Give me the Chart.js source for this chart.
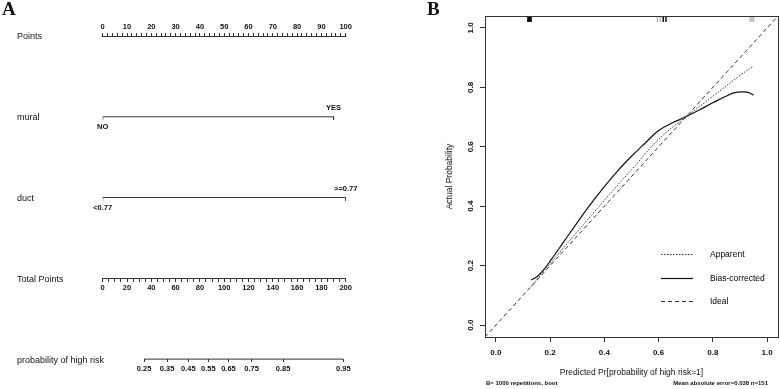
<!DOCTYPE html>
<html>
<head>
<meta charset="utf-8">
<script src="https://cdn.jsdelivr.net/npm/chart.js@4.4.1/dist/chart.umd.min.js"></script>
<style>
  body { margin: 0; background: #fff; }
  #wrap { position: relative; width: 780px; height: 389px; }
  canvas { position: absolute; top: 0; }
  #nomo { left: 0; }
  #calib { left: 420px; }
</style>
</head>
<body>
<div id="wrap">
  <canvas id="nomo" width="420" height="389"></canvas>
  <canvas id="calib" width="360" height="389"></canvas>
</div>
<script>
// ---- panel A: nomogram ----
const rowNames = ['Points', 'mural', 'duct', 'Total Points', 'probability of high risk'];
const pointTickLabels = [0, 10, 20, 30, 40, 50, 60, 70, 80, 90, 100];
const totalTickLabels = [0, 20, 40, 60, 80, 100, 120, 140, 160, 180, 200];
const muralLevels = ['NO', 'YES'];
const muralPoints = [0, 95];
const ductLevels = ['<0.77', '>=0.77'];
const ductPoints = [0, 100];
const probLabels = ['0.25', '0.35', '0.45', '0.55', '0.65', '0.75', '0.85', '0.95'];
const probPositions = [34, 53, 70.5, 87, 103.5, 122.5, 148.5, 198]; // in total points

// ---- panel B: calibration curve ----
const calTicks = [0, 0.2, 0.4, 0.6, 0.8, 1.0];
const apparentX = [0.13, 0.2, 0.3, 0.4, 0.5, 0.6, 0.7, 0.8, 0.9, 0.95];
const apparentY = [0.13, 0.207, 0.314, 0.42, 0.523, 0.625, 0.70, 0.77, 0.84, 0.872];
const biasX = [0.13, 0.15, 0.175, 0.2, 0.25, 0.3, 0.35, 0.4, 0.45, 0.5, 0.55, 0.6, 0.65, 0.7, 0.75, 0.8, 0.85, 0.88, 0.91, 0.93, 0.95];
const biasY = [0.152, 0.162, 0.185, 0.215, 0.28, 0.345, 0.408, 0.466, 0.52, 0.568, 0.612, 0.655, 0.68, 0.701, 0.724, 0.748, 0.771, 0.782, 0.785, 0.783, 0.774];
const idealX = [-0.04, 1.04];
const idealY = [-0.04, 1.04];
const rugDark = [0.118, 0.122, 0.126, 0.13, 0.617, 0.627];
const rugLight = [0.595, 0.606, 0.938, 0.944, 0.95];
const legendNames = ['Apparent', 'Bias-corrected', 'Ideal'];
const footLeft = 'B= 1000 repetitions, boot';
const footRight = 'Mean absolute error=0.038 n=151';

const SANS = '"Liberation Sans", Arial, sans-serif';
const SERIF = '"Liberation Serif", "Times New Roman", serif';
Chart.defaults.font.family = SANS;
Chart.defaults.color = '#111';

function pairs(xs, ys) {
  return xs.map((x, i) => ({ x: x, y: ys[i] }));
}

// level line with small end ticks hanging down
function levelLine(pts, row) {
  const a = pts[0], b = pts[pts.length - 1];
  return [{ x: a, y: row + 0.04 }, { x: a, y: row }, { x: b, y: row }, { x: b, y: row + 0.04 }];
}

function rugSegments(xs) {
  return xs.flatMap(x => [{ x: x, y: 1.02 }, { x: x, y: 1.04 }, { x: x, y: null }]);
}

const nomoText = {
  id: 'nomoText',
  afterDraw(chart) {
    const ctx = chart.ctx, xs = chart.scales.x, ys = chart.scales.y;
    ctx.save();
    ctx.fillStyle = '#111';
    ctx.textBaseline = 'middle';
    ctx.textAlign = 'left';
    ctx.font = '9px ' + SANS;
    rowNames.forEach((name, i) => ctx.fillText(name, 17, ys.getPixelForValue(i) + 1));

    ctx.font = 'bold 7.5px ' + SANS;
    ctx.textAlign = 'center';
    [[muralLevels, muralPoints, 1], [ductLevels, ductPoints, 2]].forEach(([levels, pts, row]) => {
      levels.forEach((lab, i) => {
        const y = ys.getPixelForValue(row) + (i % 2 === 0 ? 10 : -9);
        ctx.fillText(lab, xs.getPixelForValue(pts[i]), y);
      });
    });

    ctx.font = 'bold 19px ' + SERIF;
    ctx.textAlign = 'left';
    ctx.textBaseline = 'top';
    ctx.fillText('A', 2, 1);
    ctx.restore();
  }
};

const axisLook = {
  border: { color: '#333', width: 1 },
  grid: { drawOnChartArea: false, tickLength: 3, color: '#333' }
};

new Chart(document.getElementById('nomo'), {
  type: 'scatter',
  data: {
    datasets: [
      { data: levelLine(muralPoints, 1) },
      { data: levelLine(ductPoints, 2) },
      { data: pairs([probPositions[0], probPositions[probPositions.length - 1]], [4, 4]), xAxisID: 'tot' }
    ].map(d => Object.assign({ showLine: true, pointRadius: 0, borderColor: '#333', borderWidth: 1 }, d))
  },
  options: {
    responsive: false,
    animation: false,
    events: [],
    layout: { padding: { left: 102.7, right: 74.3, top: 20, bottom: 13.75 } },
    plugins: { legend: { display: false }, tooltip: { enabled: false } },
    scales: {
      x: Object.assign({
        type: 'linear', position: 'top', min: 0, max: 100,
        ticks: {
          stepSize: 2, autoSkip: false, maxRotation: 0, padding: 2,
          font: { size: 7.5, weight: 'bold' },
          callback: v => pointTickLabels.includes(v) ? String(v) : ''
        }
      }, axisLook),
      y: { type: 'linear', display: false, reverse: true, min: 0, max: 4.2 },
      tot: Object.assign({
        type: 'linear', axis: 'x', position: { y: 3 }, min: 0, max: 200,
        ticks: {
          stepSize: 5, autoSkip: false, maxRotation: 0, padding: 2.5,
          font: { size: 7.5, weight: 'bold' },
          callback: v => totalTickLabels.includes(v) ? String(v) : ''
        }
      }, axisLook),
      prob: {
        type: 'linear', axis: 'x', position: { y: 4 }, min: 0, max: 200,
        border: { display: false },
        grid: { drawOnChartArea: false, tickLength: 3, color: '#333' },
        afterBuildTicks: s => { s.ticks = probPositions.map(v => ({ value: v })); },
        ticks: {
          autoSkip: false, maxRotation: 0, padding: 2.5,
          font: { size: 7.5, weight: 'bold' },
          callback: (v, i) => probLabels[i]
        }
      }
    }
  },
  plugins: [nomoText]
});

// ---- panel B ----
const frameBox = {
  id: 'frameBox',
  afterDatasetsDraw(chart) {
    const { ctx, chartArea: a } = chart;
    ctx.save();
    ctx.strokeStyle = '#333';
    ctx.lineWidth = 1;
    ctx.strokeRect(Math.round(a.left) + 0.5, Math.round(a.top) + 0.5,
      Math.round(a.right - a.left), Math.round(a.bottom - a.top));
    ctx.restore();
  }
};

const calibLegend = {
  id: 'calibLegend',
  afterDraw(chart) {
    const { ctx, chartArea: a } = chart;
    ctx.save();
    ctx.font = '8.5px ' + SANS;
    ctx.fillStyle = '#000';
    ctx.textBaseline = 'middle';
    legendNames.forEach((name, i) => {
      const ds = chart.data.datasets.find(d => d.label === name);
      const y = Math.round(a.bottom - 83 + i * 23.7) + 0.5;
      ctx.strokeStyle = ds.borderColor;
      ctx.lineWidth = ds.borderWidth;
      ctx.setLineDash(ds.borderDash || []);
      ctx.beginPath();
      ctx.moveTo(a.left + 176, y);
      ctx.lineTo(a.left + 208, y);
      ctx.stroke();
      ctx.fillText(name, a.left + 225, y);
    });
    ctx.restore();
  }
};

const calibNotes = {
  id: 'calibNotes',
  afterDraw(chart) {
    const { ctx, chartArea: a } = chart;
    ctx.save();
    ctx.fillStyle = '#111';
    ctx.font = 'bold 6px ' + SANS;
    ctx.textBaseline = 'middle';
    ctx.textAlign = 'left';
    ctx.fillText(footLeft, a.left + 1, 383);
    ctx.textAlign = 'right';
    ctx.fillText(footRight, a.right - 10, 383);
    ctx.font = 'bold 19px ' + SERIF;
    ctx.textAlign = 'left';
    ctx.textBaseline = 'top';
    ctx.fillText('B', 7, 1);
    ctx.restore();
  }
};

const calAxis = (extra) => Object.assign({
  type: 'linear', min: -0.04, max: 1.04,
  border: { color: '#333', width: 1 },
  grid: { drawOnChartArea: false, tickLength: 5, color: '#333' },
  afterBuildTicks: s => { s.ticks = calTicks.map(v => ({ value: v })); }
}, extra);

new Chart(document.getElementById('calib'), {
  type: 'scatter',
  data: {
    datasets: [
      { label: 'Apparent', data: pairs(apparentX, apparentY), borderColor: '#333', borderWidth: 1, borderDash: [1.5, 1.5], tension: 0.4 },
      { label: 'Bias-corrected', data: pairs(biasX, biasY), borderColor: '#111', borderWidth: 1.2, tension: 0.4 },
      { label: 'Ideal', data: pairs(idealX, idealY), borderColor: '#333', borderWidth: 1, borderDash: [4, 3] },
      { label: 'rugLight', data: rugSegments(rugLight), borderColor: '#bbb', borderWidth: 1.5 },
      { label: 'rugDark', data: rugSegments(rugDark), borderColor: '#111', borderWidth: 1.5 }
    ].map(d => Object.assign({ showLine: true, pointRadius: 0, spanGaps: false }, d))
  },
  options: {
    responsive: false,
    animation: false,
    events: [],
    layout: { padding: { top: 16, right: 2, left: 0, bottom: 0 } },
    plugins: { legend: { display: false }, tooltip: { enabled: false } },
    scales: {
      x: calAxis({
        afterFit: s => { s.height = 52; },
        ticks: { padding: 6, maxRotation: 0, font: { size: 8, weight: 'bold' }, callback: v => v.toFixed(1) },
        title: { display: true, text: 'Predicted Pr[probability of high risk=1]', font: { size: 8.5 }, padding: { top: 0, bottom: 11 } }
      }),
      y: calAxis({
        afterFit: s => { s.width = 65; },
        ticks: { minRotation: 90, maxRotation: 90, crossAlign: 'center', padding: 4, font: { size: 8, weight: 'bold' }, callback: v => v.toFixed(1) },
        title: { display: true, text: 'Actual Probability', font: { size: 8.5 }, padding: { top: 25, bottom: 0 } }
      })
    }
  },
  plugins: [frameBox, calibLegend, calibNotes]
});
</script>
</body>
</html>
